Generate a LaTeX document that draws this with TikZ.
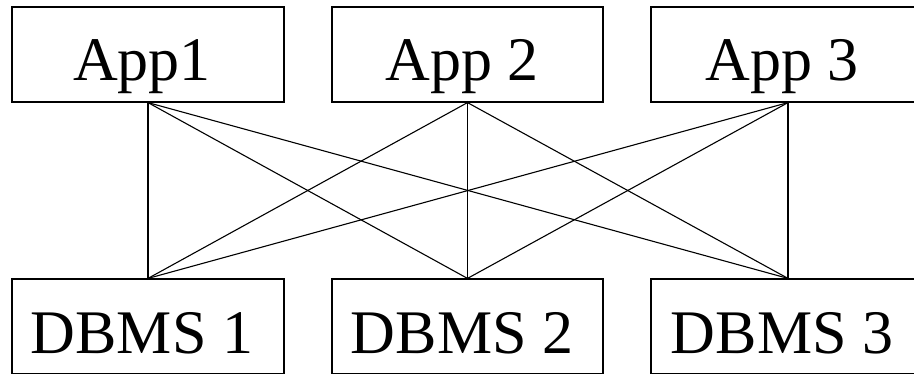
\documentclass[tikz,border=0pt]{standalone}
\usepackage{fontspec}
\setmainfont{Liberation Serif}
\begin{document}
\begin{tikzpicture}[x=1pt,y=-1pt,
  box/.style={draw, line width=1.2pt, minimum height=95pt, inner sep=0pt},
  lbl/.style={anchor=base, inner sep=0pt, font=\fontsize{62}{62}\selectfont},
  link/.style={line width=1.1pt}]
  \useasboundingbox (0,0) rectangle (914,373);
  \clip (0,0) rectangle (914,373);
  % application boxes
  \node[box, minimum width=272pt] (a1) at (148,54.5) {};
  \node[box, minimum width=271pt] (a2) at (467.5,54.5) {};
  \node[box, minimum width=274pt] (a3) at (788,54.5) {};
  % database boxes
  \node[box, minimum width=272pt] (d1) at (148,326.5) {};
  \node[box, minimum width=271pt] (d2) at (467.5,326.5) {};
  \node[box, minimum width=274pt] (d3) at (788,326.5) {};
  % labels
  \node[lbl] (t1) at (142,80) {App1};
  \node[lbl] (t2) at (462,80) {App 2};
  \node[lbl] (t3) at (782,80) {App 3};
  \node[lbl] (u1) at (142,353) {DBMS 1};
  \node[lbl] (u2) at (462,353) {DBMS 2};
  \node[lbl] (u3) at (782,353) {DBMS 3};
  % every application talks to every DBMS
  \foreach \a in {1,2,3}{
    \foreach \d in {1,2,3}{
      \draw[link] (a\a.south) -- (d\d.north);
    }
  }
\end{tikzpicture}
\end{document}
